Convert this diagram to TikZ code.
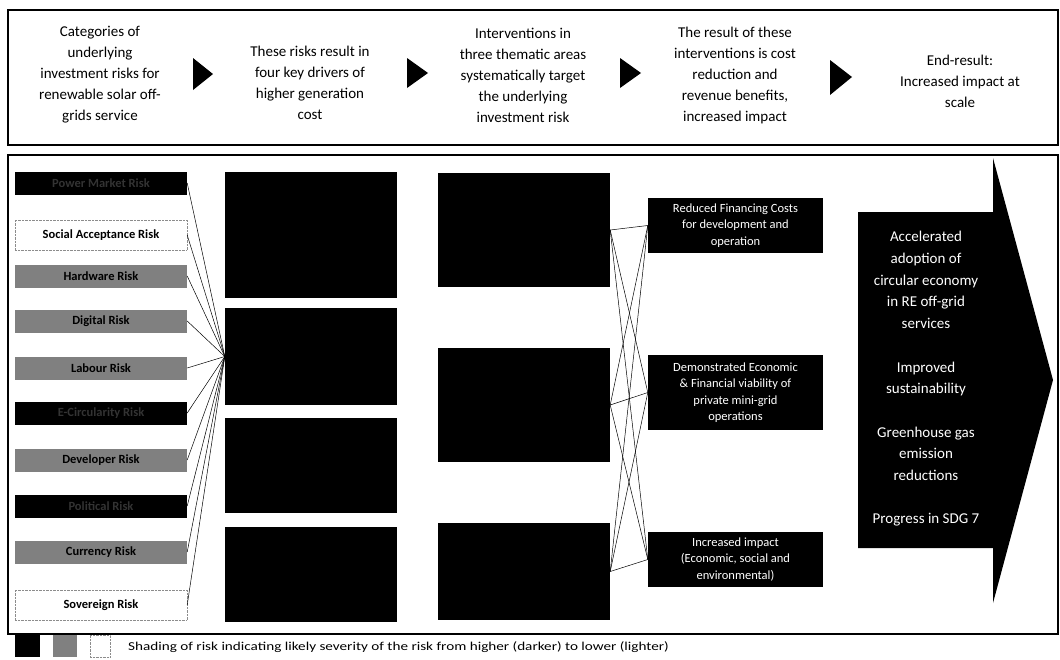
\documentclass[tikz,border=0pt]{standalone}
\usepackage{fontspec}
\setmainfont{Carlito}

\begin{document}
\begin{tikzpicture}[x=1pt,y=-1pt,
  frame/.style={draw,line width=1.2pt},
  head/.style={align=center,font=\fontsize{15}{21}\selectfont},
  risk/.style={minimum width=172pt,minimum height=23pt,inner sep=0pt,font=\bfseries\fontsize{12.5}{14}\selectfont},
  high risk/.style={risk,fill=black,text=black!80},
  mid risk/.style={risk,fill=black!50},
  low risk/.style={risk,minimum height=30pt,draw=black!45,densely dotted},
  driver/.style={fill=black,minimum width=172pt,inner sep=0pt},
  result/.style={fill=black,text=white,minimum width=175pt,inner sep=0pt,align=center,font=\fontsize{12.5}{16.5}\selectfont},
  link/.style={line width=0.5pt}]

  \useasboundingbox (0,0) rectangle (1060,659);

  % top band
  \draw[frame] (8,10) rectangle (1058,145);
  \node[head] (h1) at (100,75) {Categories of\\underlying\\investment risks for\\renewable solar off-\\grids service};
  \node[head] (h2) at (310,83) {These risks result in\\four key drivers of\\higher generation\\cost};
  \node[head] (h3) at (523,75) {Interventions in\\three thematic areas\\systematically target\\the underlying\\investment risk};
  \node[head] (h4) at (735,75) {The result of these\\interventions is cost\\reduction and\\revenue benefits,\\increased impact};
  \node[head] (h5) at (960,81) {End-result:\\Increased impact at\\scale};
  \fill (193,58) -- (213,74) -- (193,90) -- cycle;
  \fill (407,58) -- (428,73) -- (407,88) -- cycle;
  \fill (620,58) -- (641,73) -- (620,88) -- cycle;
  \fill (830,60) -- (852,77) -- (830,95) -- cycle;

  % main band
  \draw[frame] (8,155) rectangle (1058,634);

  \node[high risk] (r1) at (101,183) {Power Market Risk};
  \node[low risk] (r2) at (101,235) {Social Acceptance Risk};
  \node[mid risk] (r3) at (101,276) {Hardware Risk};
  \node[mid risk] (r4) at (101,321) {Digital Risk};
  \node[mid risk] (r5) at (101,368) {Labour Risk};
  \node[high risk] (r6) at (101,413) {E-Circularity Risk};
  \node[mid risk] (r7) at (101,460) {Developer Risk};
  \node[high risk] (r8) at (101,506) {Political Risk};
  \node[mid risk] (r9) at (101,552) {Currency Risk};
  \node[low risk] (r10) at (101,605) {Sovereign Risk};

  \node[driver,minimum height=126pt] (d1) at (311,235) {};
  \node[driver,minimum height=97pt] (d2) at (311,356.5) {};
  \node[driver,minimum height=95pt] (d3) at (311,465.5) {};
  \node[driver,minimum height=95pt] (d4) at (311,574.5) {};

  \node[driver,minimum height=114pt] (i1) at (524,230) {};
  \node[driver,minimum height=114pt] (i2) at (524,405) {};
  \node[driver,minimum height=97pt] (i3) at (524,571.5) {};

  \node[result,minimum height=55pt] (o1) at (735.5,225.5) {Reduced Financing Costs\\for development and\\operation};
  \node[result,minimum height=75pt] (o2) at (735.5,392.5) {Demonstrated Economic\\\& Financial viability of\\private mini-grid\\operations};
  \node[result,minimum height=55pt] (o3) at (735.5,559.5) {Increased impact\\(Economic, social and\\environmental)};

  % end-result arrow
  \fill (858,212) -- (993,212) -- (993,158) -- (1053,380) -- (993,603) -- (993,548) -- (858,548) -- cycle;
  \node[text=white,align=center,font=\fontsize{15}{21.7}\selectfont] (res) at (926,379)
    {Accelerated\\adoption of\\circular economy\\in RE off-grid\\services\\[21.7pt]Improved\\sustainability\\[21.7pt]Greenhouse gas\\emission\\reductions\\[21.7pt]Progress in SDG 7};

  \path[link]
    (r1.east) edge (d2.west)
    (r2.east) edge (d2.west)
    (r3.east) edge (d2.west)
    (r4.east) edge (d2.west)
    (r5.east) edge (d2.west)
    (r6.east) edge (d2.west)
    (r7.east) edge (d2.west)
    (r8.east) edge (d2.west)
    (r9.east) edge (d2.west)
    (r10.east) edge (d2.west);

  \path[link]
    (i1.east) edge (o1.west)
    (i1.east) edge (o2.west)
    (i1.east) edge (o3.west)
    (i2.east) edge (o1.west)
    (i2.east) edge (o2.west)
    (i2.east) edge (o3.west)
    (i3.east) edge (o1.west)
    (i3.east) edge (o2.west)
    (i3.east) edge (o3.west);

  % legend
  \node[fill=black,minimum width=25pt,minimum height=22pt,inner sep=0pt] (k1) at (27.5,646) {};
  \node[fill=black!50,minimum width=24pt,minimum height=22pt,inner sep=0pt] (k2) at (65,646) {};
  \node[draw=black!45,densely dotted,minimum width=20pt,minimum height=22pt,inner sep=0pt] (k3) at (100,646) {};
  \node[anchor=west,inner sep=0pt,font=\fontsize{11}{13}\selectfont] (key) at (128,647)
    {\scalebox{1.38}[1.1]{Shading of risk indicating likely severity of the risk from higher (darker) to lower (lighter)}};
\end{tikzpicture}
\end{document}
